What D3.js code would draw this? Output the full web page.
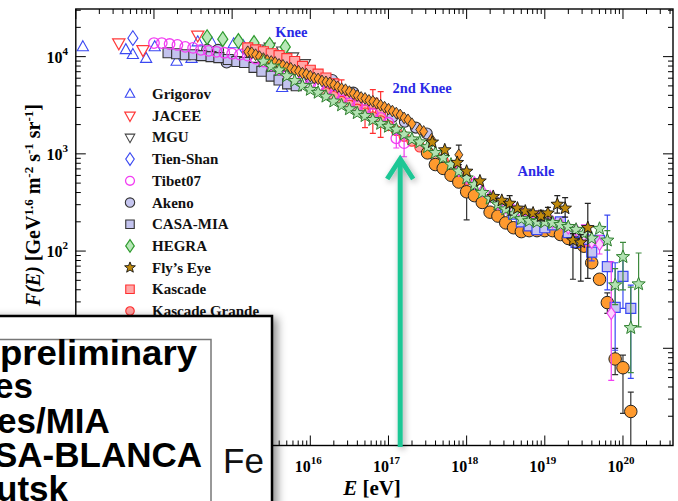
<!DOCTYPE html>
<html><head><meta charset="utf-8">
<script src="https://cdn.jsdelivr.net/npm/d3@7"></script>
<style>html,body{margin:0;padding:0;background:#fff;overflow:hidden}</style>
</head><body>
<svg id="chart" width="678" height="501"></svg>
<script>
// All-particle cosmic-ray spectrum, E^2.6 F(E).
// Each point: [log10(E/eV), log10(flux), log10(low), log10(high)] (error bounds optional)
const grigorov = [[13.09,4.10],[13.64,4.07],[13.73,4.02],[13.90,3.98],[14.01,4.10],[14.29,3.95],[14.48,3.98],[14.56,4.15],[14.74,4.14],[15.02,4.13],[15.53,3.91],[15.64,3.68]];
const jacee = [[13.55,4.14],[13.86,4.07],[14.56,4.22]];
const mgu = [[15.20,4.04],[15.33,4.08],[15.48,4.10],[15.64,4.06],[15.78,4.00],[15.93,3.93]];
const tienShan = [[13.73,4.19],[15.14,4.10],[15.33,4.06]];
const tibet07 = [[14.0,4.14],[14.1,4.14],[14.2,4.13],[14.3,4.12],[14.4,4.10],[14.5,4.09],[14.6,4.07],[14.7,4.06],[14.8,4.05],[14.9,4.04],[15.0,4.03],[15.1,4.02],[15.2,4.01],[15.3,3.98],[15.4,3.95],[15.5,3.91],[15.6,3.87],[15.7,3.83],[15.8,3.79],[15.9,3.75],[16.0,3.72],[16.1,3.68],[16.2,3.64],[16.3,3.60],[16.4,3.55],[16.5,3.52],[16.6,3.49],[16.7,3.45],[16.8,3.41],[16.9,3.37],[17.0,3.32],[17.1,3.16,3.06,3.20],[17.2,3.11,2.97,3.16]];
const akeno = [[14.68,4.07],[14.82,4.07],[14.93,3.94],[15.46,3.97],[15.70,3.90],[16.00,3.78],[16.28,3.76],[16.55,3.63],[16.80,3.52],[17.05,3.38],[17.21,3.33],[17.35,3.27],[17.49,3.21]];
const casaMia = [[14.18,4.04],[14.29,4.03],[14.40,4.02],[14.51,4.02],[14.61,4.01],[14.73,4.00],[14.83,3.99],[14.95,3.97],[15.06,3.95],[15.16,3.94],[15.28,3.89],[15.38,3.85],[15.50,3.80],[15.60,3.76],[15.71,3.72],[15.82,3.70]];
const hegra = [[14.68,4.20],[14.88,4.18],[15.08,4.16,4.13,4.19],[15.28,4.14,4.11,4.17],[15.48,4.12,4.09,4.16],[15.68,4.10,4.06,4.14]];
const flysEye = [[17.56,3.12],[17.72,3.04],[17.88,2.91],[18.00,2.82],[18.17,2.72],[18.34,2.56],[18.45,2.52],[18.55,2.49,2.37,2.57],[18.65,2.44],[18.75,2.41],[18.85,2.39],[18.95,2.36,2.31,2.42],[19.04,2.39,2.33,2.45],[19.16,2.48,2.39,2.57],[19.26,2.44,2.35,2.55],[19.36,2.11,1.71,2.18],[19.46,2.09,1.69,2.17],[19.55,2.24,1.72,2.49]];
const kascade = [[15.2,4.09],[15.3,4.07],[15.4,4.05],[15.5,4.03],[15.6,4.01],[15.7,3.98],[15.8,3.95],[15.9,3.90],[16.0,3.86],[16.1,3.82],[16.2,3.78],[16.3,3.72],[16.4,3.64,3.52,3.76],[16.5,3.55,3.46,3.62],[16.6,3.50,3.43,3.58],[16.7,3.45,3.27,3.48],[16.8,3.52,3.21,3.66],[16.9,3.42,3.17,3.64]];
const kascadeGrande = [[16.2,3.63],[16.3,3.59],[16.4,3.54],[16.5,3.50],[16.6,3.46],[16.7,3.42],[16.8,3.38],[16.9,3.34],[17.0,3.29],[17.1,3.24],[17.2,3.18],[17.3,3.13],[17.4,3.07],[17.5,3.02],[17.6,2.97],[17.7,2.93],[17.8,2.88],[17.9,2.81],[18.0,2.73]];
const iceTop73 = [[15.20,4.05],[15.25,4.04],[15.30,4.02],[15.35,4.00],[15.40,3.98],[15.45,3.96],[15.50,3.95],[15.55,3.94],[15.60,3.92],[15.65,3.91],[15.70,3.89],[15.75,3.88],[15.80,3.86],[15.85,3.85],[15.90,3.83],[15.95,3.82],[16.00,3.80],[16.05,3.78],[16.10,3.77],[16.15,3.75],[16.20,3.74],[16.25,3.73],[16.30,3.71],[16.35,3.69],[16.40,3.67],[16.45,3.66],[16.50,3.64],[16.55,3.62],[16.60,3.60],[16.65,3.58],[16.70,3.57],[16.75,3.55],[16.80,3.54],[16.85,3.52],[16.90,3.50],[16.95,3.48],[17.00,3.46],[17.05,3.44],[17.10,3.42],[17.15,3.40],[17.20,3.37],[17.25,3.35],[17.30,3.31],[17.40,3.25],[17.45,3.23],[17.55,3.15],[17.90,2.99,2.89,3.09]];
const hiRes1 = [[18.5,2.45],[18.6,2.38],[18.7,2.30],[18.8,2.26],[18.9,2.22],[19.0,2.24],[19.1,2.27],[19.2,2.30],[19.3,2.19],[19.4,2.09],[19.5,2.12],[19.6,1.99,1.90,2.08],[19.7,2.11],[19.8,1.84,1.60,2.37],[19.9,1.42,0.98,1.88],[20.0,1.74,1.41,1.93],[20.1,1.41,0.69,1.65]];
const hiRes2 = [[17.9,2.83],[18.0,2.76],[18.1,2.70],[18.2,2.62],[18.3,2.56],[18.4,2.49],[18.5,2.45],[18.6,2.42],[18.7,2.39],[18.8,2.36],[18.9,2.35],[19.0,2.33],[19.1,2.30],[19.2,2.28],[19.3,2.24],[19.4,2.22],[19.5,2.16,2.05,2.27],[19.6,2.09],[19.7,2.07,1.97,2.16],[19.85,1.36,0.67,1.89]];
const telescopeArray = [[15.4,3.95],[15.5,3.90],[15.6,3.86],[15.7,3.80],[15.8,3.75],[15.9,3.70],[16.0,3.66],[16.1,3.63],[16.2,3.59],[16.3,3.54],[16.4,3.50],[16.5,3.46],[16.6,3.42],[16.7,3.39],[16.8,3.35],[16.9,3.31],[17.0,3.28],[17.1,3.25],[17.2,3.20],[17.3,3.15],[17.4,3.12],[17.5,3.07],[17.6,3.01],[17.7,2.96],[17.8,2.89],[17.9,2.82],[18.0,2.75],[18.1,2.68],[18.2,2.60],[18.3,2.54],[18.4,2.48],[18.5,2.43],[18.6,2.38],[18.7,2.33],[18.8,2.31],[18.9,2.30],[19.0,2.30],[19.1,2.29],[19.2,2.27],[19.3,2.25],[19.4,2.22],[19.5,2.18],[19.6,2.13],[19.7,2.23],[19.8,2.11,2.01,2.21],[19.9,1.65,1.45,1.82],[20.0,1.94,1.60,2.09],[20.1,1.21,0.75,1.63],[20.2,1.66,1.22,1.98]];
const auger = [[17.5,3.01],[17.6,2.89],[17.7,2.85],[17.8,2.78],[17.9,2.71],[18.0,2.61,2.32,2.64],[18.1,2.57],[18.2,2.50],[18.3,2.40],[18.4,2.36],[18.5,2.29],[18.6,2.24],[18.7,2.20],[18.8,2.21],[18.9,2.21],[19.0,2.21],[19.1,2.21],[19.2,2.17],[19.3,2.13],[19.4,2.09],[19.5,2.05],[19.6,1.88],[19.7,1.71],[19.8,1.47,1.36,1.57],[19.9,0.89,0.73,1.00],[20.0,0.80,0.33,0.93],[20.1,0.35,-0.3,0.55]];

const xTickExponents = [13,14,15,16,17,18,19,20];
const xLabelExponents = [16,17,18,19,20];
const yTickExponents = [0,1,2,3,4];
const yLabelExponents = [2,3,4];
const legendNames = ["Grigorov","JACEE","MGU","Tien-Shan","Tibet07","Akeno","CASA-MIA","HEGRA","Fly\u2019s Eye","Kascade","Kascade Grande"];
const annotations = [["Knee",15.55,4.20],["2nd Knee",17.05,3.63],["Ankle",18.65,2.77]];
const insetLines = ["preliminary","es","es/MIA","SA-BLANCA","utsk"];

const svg = d3.select("#chart");
const L = 75.8, R = 673, T = 9, B = 445.5;
const x = d3.scaleLog().domain([1e13, Math.pow(10, 20.64)]).range([L, R]);
const y = d3.scaleLog().domain([1, Math.pow(10, 4.49)]).range([B, T]);
const px = v => x(Math.pow(10, v));
const py = v => y(Math.pow(10, v));

const defs = svg.append("defs");
defs.append("clipPath").attr("id","plotClip").append("rect")
  .attr("x",L).attr("y",T).attr("width",R-L).attr("height",B-T);
const sh = defs.append("filter").attr("id","boxShadow").attr("x","-20%").attr("y","-20%").attr("width","150%").attr("height","150%");
sh.append("feDropShadow").attr("dx",4).attr("dy",3).attr("stdDeviation",5).attr("flood-color","#000").attr("flood-opacity",0.45);
const ash = defs.append("filter").attr("id","arrowShadow").attr("x","-200%").attr("y","-20%").attr("width","500%").attr("height","140%");
ash.append("feDropShadow").attr("dx",2).attr("dy",2).attr("stdDeviation",3).attr("flood-color","#000").attr("flood-opacity",0.35);

// marker shapes
function shapePath(type, s) {
  switch (type) {
    case "triUp": return `M0,${-s*0.62}L${s*0.56},${s*0.38}L${-s*0.56},${s*0.38}Z`;
    case "triDown": return `M0,${s*0.62}L${s*0.56},${-s*0.38}L${-s*0.56},${-s*0.38}Z`;
    case "diamond": return `M0,${-s*0.62}L${s*0.42},0L0,${s*0.62}L${-s*0.42},0Z`;
    case "square": return `M${-s/2},${-s/2}h${s}v${s}h${-s}Z`;
    case "circle": { const r = s/2; return `M${r},0A${r},${r} 0 1,1 ${-r},0A${r},${r} 0 1,1 ${r},0Z`; }
    case "star": {
      let p = "";
      for (let i = 0; i < 10; i++) {
        const rr = i % 2 ? s*0.25 : s*0.58;
        const a = -Math.PI/2 + i*Math.PI/5;
        p += (i ? "L" : "M") + (rr*Math.cos(a)).toFixed(2) + "," + (rr*Math.sin(a)).toFixed(2);
      }
      return p + "Z";
    }
  }
}

const styles = {
  grigorov: {shape:"triUp", size:10, fill:"none", stroke:"#3a48f2", sw:1.1, err:"#3a48f2"},
  jacee: {shape:"triDown", size:11, fill:"none", stroke:"#ff3a3a", sw:1.2, err:"#ff3a3a"},
  mgu: {shape:"triDown", size:10, fill:"none", stroke:"#444", sw:1.1, err:"#444"},
  tienShan: {shape:"diamond", size:12, fill:"none", stroke:"#3a48f2", sw:1.1, err:"#3a48f2"},
  tibet07: {shape:"circle", size:10.5, fill:"none", stroke:"#f23ef2", sw:1.3, err:"#f23ef2"},
  akeno: {shape:"circle", size:11, fill:"#c6c6f0", stroke:"#333", sw:1.1, err:"#333"},
  casaMia: {shape:"square", size:10, fill:"#c3c3ee", stroke:"#333", sw:1.1, err:"#333"},
  hegra: {shape:"diamond", size:12, fill:"#b8e8b8", stroke:"#2e9a2e", sw:1.2, err:"#2e9a2e"},
  flysEye: {shape:"star", size:11.5, fill:"#c08a0c", stroke:"#111", sw:0.9, err:"#222"},
  kascade: {shape:"square", size:10, fill:"#ffa8a8", stroke:"#ff2f2f", sw:1.1, err:"#ff2f2f"},
  kascadeGrande: {shape:"circle", size:10, fill:"#ffa0a0", stroke:"#ff2f2f", sw:1.1, err:"#ff2f2f"},
  iceTop73: {shape:"diamond", size:9.5, fill:"#ff9a2e", stroke:"#2a2a2a", sw:0.9, err:"#2a2a2a"},
  hiRes1: {shape:"square", size:10, fill:"#c6c6f2", stroke:"#3a48f2", sw:1.2, err:"#3a48f2"},
  hiRes2: {shape:"diamond", size:10, fill:"#ffd0ff", stroke:"#f23ef2", sw:1.1, err:"#f23ef2"},
  telescopeArray: {shape:"star", size:12, fill:"#b2e2b2", stroke:"#2f7f2f", sw:1.0, err:"#3d8a3d"},
  auger: {shape:"circle", size:12.5, fill:"#ff9a2e", stroke:"#222", sw:1.0, err:"#333"}
};

const plot = svg.append("g");
const marks = plot.append("g").attr("clip-path","url(#plotClip)");

const order = [
  ["grigorov", grigorov], ["jacee", jacee], ["mgu", mgu], ["tienShan", tienShan],
  ["akeno", akeno], ["casaMia", casaMia], ["hegra", hegra], ["kascade", kascade],
  ["kascadeGrande", kascadeGrande], ["tibet07", tibet07], ["auger", auger],
  ["hiRes1", hiRes1], ["hiRes2", hiRes2], ["iceTop73", iceTop73],
  ["telescopeArray", telescopeArray], ["flysEye", flysEye]
];

order.forEach(([key, data]) => {
  const st = styles[key];
  const g = marks.append("g");
  const withErr = data.filter(d => d.length > 2);
  g.selectAll("path.err").data(withErr).join("path")
    .attr("fill","none").attr("stroke",st.err).attr("stroke-width",1.2)
    .attr("d", d => {
      const xx = px(d[0]), y1 = py(d[2]), y2 = py(d[3]);
      return `M${xx},${y1}V${y2}M${xx-3},${y1}h6M${xx-3},${y2}h6`;
    });
  g.selectAll("path.pt").data(data).join("path")
    .attr("transform", d => `translate(${px(d[0])},${py(d[1])})`)
    .attr("d", shapePath(st.shape, st.size))
    .attr("fill", st.fill).attr("stroke", st.stroke).attr("stroke-width", st.sw);
});

// axes: ticks inward on all four sides
const axes = plot.append("g").attr("stroke","#000").attr("stroke-width",1);
const xMaj = xTickExponents.map(e => Math.pow(10,e));
const xMin = [];
xTickExponents.forEach(e => { for (let m = 2; m <= 9; m++) { const v = m*Math.pow(10,e); if (v < x.domain()[1]) xMin.push(v); } });
const yMaj = yTickExponents.map(e => Math.pow(10,e));
const yMin = [];
yTickExponents.forEach(e => { for (let m = 2; m <= 9; m++) { const v = m*Math.pow(10,e); if (v < y.domain()[1]) yMin.push(v); } });

xMaj.forEach(v => { const X = x(v); axes.append("line").attr("x1",X).attr("x2",X).attr("y1",B).attr("y2",B-10); axes.append("line").attr("x1",X).attr("x2",X).attr("y1",T).attr("y2",T+10); });
xMin.forEach(v => { const X = x(v); axes.append("line").attr("x1",X).attr("x2",X).attr("y1",B).attr("y2",B-5); axes.append("line").attr("x1",X).attr("x2",X).attr("y1",T).attr("y2",T+5); });
yMaj.forEach(v => { const Y = y(v); axes.append("line").attr("x1",L).attr("x2",L+10).attr("y1",Y).attr("y2",Y); axes.append("line").attr("x1",R).attr("x2",R-10).attr("y1",Y).attr("y2",Y); });
yMin.forEach(v => { const Y = y(v); axes.append("line").attr("x1",L).attr("x2",L+5).attr("y1",Y).attr("y2",Y); axes.append("line").attr("x1",R).attr("x2",R-5).attr("y1",Y).attr("y2",Y); });
plot.append("rect").attr("x",L).attr("y",T).attr("width",R-L).attr("height",B-T)
  .attr("fill","none").attr("stroke","#000").attr("stroke-width",1.4);

const serif = "'Liberation Serif','Times New Roman',serif";
// tick labels (the lower decades sit beneath the overlaid panel)
xLabelExponents.forEach(e => {
  const t = svg.append("text").attr("x", x(Math.pow(10,e)) - 2).attr("y", 472)
    .attr("text-anchor","middle").attr("font-family",serif).attr("font-weight","bold").attr("font-size",16);
  t.append("tspan").text("10");
  t.append("tspan").attr("dy",-8).attr("font-size",11).text(e);
});
yLabelExponents.forEach(e => {
  const t = svg.append("text").attr("x", 68).attr("y", y(Math.pow(10,e)) + 6)
    .attr("text-anchor","end").attr("font-family",serif).attr("font-weight","bold").attr("font-size",16);
  t.append("tspan").text("10");
  t.append("tspan").attr("dy",-8).attr("font-size",11).text(e);
});

// axis titles
const xt = svg.append("text").attr("x",372).attr("y",495).attr("text-anchor","middle")
  .attr("font-family",serif).attr("font-weight","bold").attr("font-size",21);
xt.append("tspan").attr("font-style","italic").text("E");
xt.append("tspan").text(" [eV]");

const yt = svg.append("text").attr("transform","translate(40,104) rotate(-90)").attr("text-anchor","end")
  .attr("font-family",serif).attr("font-weight","bold").attr("font-size",20);
yt.append("tspan").attr("font-style","italic").text("F(E)");
yt.append("tspan").text(" [GeV");
yt.append("tspan").attr("baseline-shift","super").attr("font-size",13).text("1.6");
yt.append("tspan").text(" m");
yt.append("tspan").attr("baseline-shift","super").attr("font-size",13).text("-2");
yt.append("tspan").text(" s");
yt.append("tspan").attr("baseline-shift","super").attr("font-size",13).text("-1");
yt.append("tspan").text(" sr");
yt.append("tspan").attr("baseline-shift","super").attr("font-size",13).text("-1");
yt.append("tspan").text("]");

// annotations
annotations.forEach(([txt, le, lf]) => {
  svg.append("text").attr("x", px(le)).attr("y", py(lf)).attr("font-family",serif)
    .attr("font-weight","bold").attr("font-size",14.5).attr("fill","#2a2ae6").text(txt);
});

// legend
const legendKeys = ["grigorov","jacee","mgu","tienShan","tibet07","akeno","casaMia","hegra","flysEye","kascade","kascadeGrande"];
const lg = svg.append("g");
legendNames.forEach((name, i) => {
  const st = styles[legendKeys[i]];
  const cy = 94 + i*21.7;
  lg.append("path").attr("transform",`translate(130,${cy})`).attr("d", shapePath(st.shape, st.size*0.85))
    .attr("fill", st.fill).attr("stroke", st.stroke).attr("stroke-width", st.sw);
  lg.append("text").attr("x",152).attr("y",cy+5).attr("font-family",serif)
    .attr("font-weight","bold").attr("font-size",15).attr("fill","#111").text(name);
});

// overlaid inset panel
const sans = "'Liberation Sans',Arial,Helvetica,sans-serif";
const inset = svg.append("g");
inset.append("rect").attr("x",-20).attr("y",316).attr("width",292).attr("height",220)
  .attr("fill","#fff").attr("stroke","#000").attr("stroke-width",2.5).attr("filter","url(#boxShadow)");
inset.append("rect").attr("x",-20).attr("y",339.5).attr("width",231).attr("height",200)
  .attr("fill","none").attr("stroke","#777").attr("stroke-width",1.5);
const insetPos = [[0,365,197],[-6,398,null],[-3,433,null],[-6,467,null],[-4,501,null]];
insetLines.forEach((s, i) => {
  const t = inset.append("text").attr("x", insetPos[i][0]).attr("y", insetPos[i][1])
    .attr("font-family",sans).attr("font-weight","bold").attr("font-size",35).attr("fill","#000").text(s);
  if (insetPos[i][2]) t.attr("textLength", insetPos[i][2]).attr("lengthAdjust","spacingAndGlyphs");
});
inset.append("text").attr("x",223).attr("y",473).attr("font-family",sans).attr("font-size",35)
  .attr("fill","#111").text("Fe");

// arrow marking the second knee
const ax = px(17.15);
const arrow = svg.append("g").attr("filter","url(#arrowShadow)").attr("stroke","#1fc795")
  .attr("stroke-width",5).attr("fill","none");
arrow.append("line").attr("x1",ax).attr("x2",ax).attr("y1",447).attr("y2",159);
arrow.append("path").attr("d",`M${ax-13},${179}L${ax},${159}L${ax+13},${179}`).attr("stroke-linejoin","miter");
</script>
</body></html>
